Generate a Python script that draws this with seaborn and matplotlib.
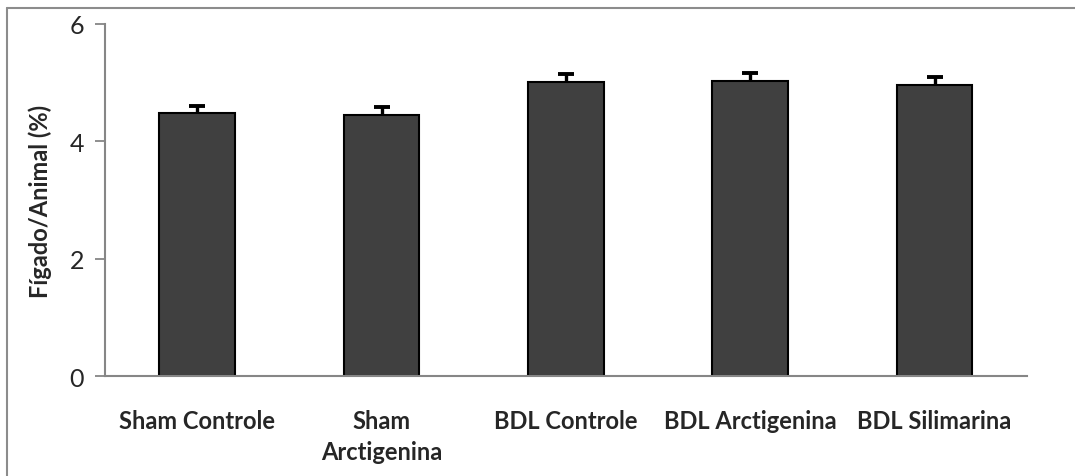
import matplotlib
matplotlib.use("Agg")
import matplotlib.pyplot as plt
from matplotlib.lines import Line2D
import numpy as np
import pandas as pd
import seaborn as sns

# Liver-to-body weight ratio per group (mean and SEM)
groups = ["Sham Controle", "Sham\nArctigenina", "BDL Controle", "BDL Arctigenina", "BDL Silimarina"]
means = [4.48, 4.45, 5.01, 5.03, 4.96]
sems = [0.13, 0.14, 0.13, 0.14, 0.14]
y_ticks = [0, 2, 4, 6]

df = pd.DataFrame({"grupo": groups, "razao": means})

sns.set_theme(style="white")
plt.rcParams["font.family"] = ["Lato", "DejaVu Sans"]

fig = plt.figure(figsize=(10.75, 4.77), dpi=100)
ax = fig.add_axes([0.0977, 0.2096, 0.8574, 0.738])

sns.barplot(data=df, x="grupo", y="razao", order=groups, color="#404040",
            saturation=1, width=0.41, edgecolor="black", linewidth=1.5,
            errorbar=None, ax=ax)

pos = np.arange(len(groups))
eb = ax.errorbar(pos, means, yerr=[np.zeros(len(sems)), sems], fmt="none",
                 ecolor="black", elinewidth=2.4, capsize=6, capthick=2.8, zorder=3)
# keep only the upper caps
eb.lines[1][0].set_visible(False)

ax.set_ylim(0, 6)
ax.set_xlim(-0.5, len(groups) - 0.5)
ax.set_yticks(y_ticks)
ax.set_yticklabels([str(t) for t in y_ticks], fontsize=18)

ax.set_xlabel("")
ax.set_ylabel("Fígado/Animal (%)", fontsize=17, fontweight="bold", labelpad=13)
ax.set_xticks(pos)
ax.set_xticklabels(groups, fontsize=17, fontweight="bold", linespacing=1.4)
ax.tick_params(axis="x", which="major", length=0, pad=24)
ax.set_xticks(np.arange(-0.5, len(groups), 1.0), minor=True)
ax.tick_params(axis="x", which="minor", length=7, width=1.3, color="#868686", direction="out")
ax.tick_params(axis="y", which="major", length=7, width=1.3, color="#868686", direction="out", pad=8, left=True)

for side in ["top", "right"]:
    ax.spines[side].set_visible(False)
for side in ["left", "bottom"]:
    ax.spines[side].set_color("#868686")
    ax.spines[side].set_linewidth(1.5)

# Outer chart-area border (left and top edges)
fig.add_artist(Line2D([7 / 1075, 7 / 1075], [0, 1 - 9 / 477], transform=fig.transFigure,
                      color="#8c8c8c", linewidth=1.5))
fig.add_artist(Line2D([7 / 1075, 1], [1 - 9 / 477, 1 - 9 / 477], transform=fig.transFigure,
                      color="#8c8c8c", linewidth=1.5))

fig.savefig("out.png", dpi=100)
